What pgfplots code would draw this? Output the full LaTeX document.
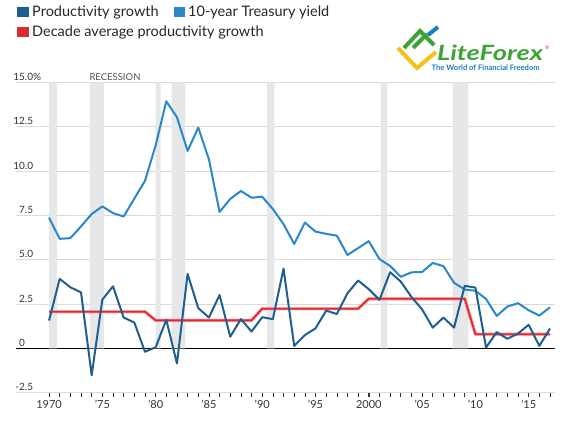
\documentclass[border=0pt]{standalone}
\usepackage{fontspec}
\setmainfont{Lato}
\usepackage{pgfplots}
\usepackage{pgfplotstable}
\pgfplotsset{compat=1.18}
\definecolor{prod}{HTML}{1F5F8F}
\definecolor{tsy}{HTML}{2A88C8}
\definecolor{dec}{HTML}{DD2A30}
\definecolor{dechalo}{HTML}{F4B0B2}
\definecolor{rec}{HTML}{E6E7E9}
\definecolor{gridc}{HTML}{DADADA}
\definecolor{txt}{HTML}{333333}
\definecolor{lfgreen}{HTML}{3DA535}
\definecolor{lfyellow}{HTML}{F5C01A}
\definecolor{lfblue}{HTML}{1A7DC0}

\pgfplotstableread{
year prod tsy
1970 1.57 7.37
1971 3.92 6.18
1972 3.45 6.22
1973 3.16 6.88
1974 -1.52 7.58
1975 2.75 8.01
1976 3.50 7.63
1977 1.74 7.44
1978 1.46 8.45
1979 -0.19 9.45
1980 0.06 11.45
1981 1.61 13.94
1982 -0.85 13.04
1983 4.20 11.14
1984 2.27 12.46
1985 1.74 10.66
1986 3.01 7.70
1987 0.66 8.43
1988 1.65 8.88
1989 0.95 8.50
1990 1.76 8.56
1991 1.65 7.86
1992 4.50 7.01
1993 0.14 5.89
1994 0.75 7.10
1995 1.13 6.59
1996 2.13 6.46
1997 1.94 6.36
1998 3.11 5.27
1999 3.83 5.66
2000 3.34 6.05
2001 2.74 5.04
2002 4.30 4.65
2003 3.77 4.04
2004 2.90 4.29
2005 2.20 4.31
2006 1.17 4.82
2007 1.74 4.64
2008 1.17 3.70
2009 3.53 3.32
2010 3.43 3.25
2011 0.05 2.79
2012 0.92 1.83
2013 0.54 2.36
2014 0.84 2.55
2015 1.33 2.15
2016 0.14 1.85
2017 1.12 2.32
}\datatable

\pgfplotstableread{
year avg
1970 2.07
1979 2.07
1980 1.58
1989 1.58
1990 2.24
1999 2.24
2000 2.80
2009 2.80
2010 0.80
2017 0.80
}\avgtable

\begin{document}
\begin{tikzpicture}
\useasboundingbox (0pt,0pt) rectangle (569pt,420pt);
\begin{axis}[
  at={(16pt,27.3pt)}, anchor=south west,
  scale only axis, width=539pt, height=310.2pt,
  xmin=1966.9, xmax=2017.47, ymin=-2.5, ymax=15,
  axis line style={draw=none},
  xtick={1970,1975,...,2015},
  xticklabels={1970,’75,’80,’85,’90,’95,2000,’05,’10,’15},
  minor xtick={1970,...,2017},
  xtick pos=bottom, ytick pos=left,
  tick align=outside,
  major tick length=4pt, minor tick length=4pt,
  xtick style={draw=txt, line width=0.6pt},
  minor tick style={draw=txt, line width=0.6pt},
  ytick={-2.5,2.5,5,7.5,10,12.5,15},
  yticklabels={-2.5,2.5,5.0,7.5,10.0,12.5,15.0\rlap{\%}},
  ytick style={draw=none},
  extra y ticks={0},
  extra y tick labels={0\phantom{.0}},
  extra y tick style={grid style={black, line width=0.9pt}},
  ymajorgrids,
  grid style={gridc, line width=0.8pt},
  yticklabel style={anchor=south east, inner sep=0pt, xshift=21.3pt, yshift=1.7pt, font=\fontsize{10}{12}\selectfont, text=txt},
  xticklabel style={font=\fontsize{11}{13}\selectfont, text=txt},
  clip=false,
]
% recession bands
\addplot[fill=rec, draw=none] coordinates {(1970.0,-2.5)(1970.0,15)(1970.75,15)(1970.75,-2.5)} \closedcycle;
\addplot[fill=rec, draw=none] coordinates {(1973.82,-2.5)(1973.82,15)(1975.15,15)(1975.15,-2.5)} \closedcycle;
\addplot[fill=rec, draw=none] coordinates {(1980.0,-2.5)(1980.0,15)(1980.48,15)(1980.48,-2.5)} \closedcycle;
\addplot[fill=rec, draw=none] coordinates {(1981.5,-2.5)(1981.5,15)(1982.8,15)(1982.8,-2.5)} \closedcycle;
\addplot[fill=rec, draw=none] coordinates {(1990.45,-2.5)(1990.45,15)(1991.15,15)(1991.15,-2.5)} \closedcycle;
\addplot[fill=rec, draw=none] coordinates {(2001.12,-2.5)(2001.12,15)(2001.75,15)(2001.75,-2.5)} \closedcycle;
\addplot[fill=rec, draw=none] coordinates {(2007.87,-2.5)(2007.87,15)(2009.35,15)(2009.35,-2.5)} \closedcycle;
% series
\addplot[dechalo, line width=3.6pt, line join=round] table[x=year, y=avg] {\avgtable};
\addplot[dec, line width=1.8pt, line join=round] table[x=year, y=avg] {\avgtable};
\addplot[tsy, line width=2pt, line join=round] table[x=year, y=tsy] {\datatable};
\addplot[prod, line width=2pt, line join=round] table[x=year, y=prod] {\datatable};
\node[anchor=base west, inner sep=0pt, text=txt!85, font=\fontsize{9.5}{11}\selectfont] at (axis cs:1973.78,15) [yshift=2.3pt] {RECESSION};
\end{axis}
% legend
\fill[prod] (17pt,403.3pt) rectangle (28.5pt,413.3pt);
\node[anchor=base west, inner sep=0pt, text=black!85, font=\fontsize{14.5}{16}\selectfont] at (32pt,403.3pt) {Productivity growth};
\fill[tsy] (174pt,403.3pt) rectangle (185pt,413.3pt);
\node[anchor=base west, inner sep=0pt, text=black!85, font=\fontsize{14.5}{16}\selectfont] at (188pt,403.3pt) {10-year Treasury yield};
\fill[dec] (17pt,383.3pt) rectangle (28.5pt,393.3pt);
\node[anchor=base west, inner sep=0pt, text=black!85, font=\fontsize{14.5}{16}\selectfont] at (32pt,383.3pt) {Decade average productivity growth};
% logo
\draw[lfyellow, line width=4pt, line join=miter] (398pt,372pt) -- (417pt,352pt) -- (436pt,368pt);
\draw[lfgreen, line width=4pt, line join=miter] (404pt,372pt) -- (420pt,389pt) -- (434pt,375pt);
\draw[lfgreen, line width=4pt] (413pt,372pt) -- (427pt,386pt);
\draw[lfblue, line width=4pt] (428pt,385pt) -- (438pt,393pt);
\node[anchor=base west, inner sep=0pt, text=lfgreen, font=\fontsize{21}{24}\selectfont\bfseries\itshape] at (437pt,359pt) {\scalebox{1.3}[1]{LiteForex}};
\node[anchor=base west, inner sep=0pt, text=dec, font=\fontsize{5}{6}\selectfont] at (545pt,370pt) {®};
\node[anchor=base west, inner sep=0pt, text=lfblue, font=\fontsize{7.6}{9}\selectfont\bfseries] at (431.5pt,349pt) {The World of Financial Freedom};
\end{tikzpicture}
\end{document}
